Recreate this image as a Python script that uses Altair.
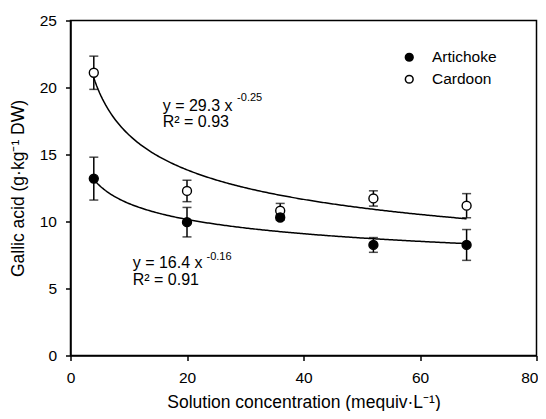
import altair as alt
import pandas as pd

# ---- data ----
conc = [4, 20, 36, 52, 68]
series = ["Artichoke", "Cardoon"]
artichoke_mean = [13.2, 9.95, 10.3, 8.25, 8.25]
artichoke_err = [1.6, 1.1, 0.2, 0.55, 1.15]
cardoon_mean = [21.1, 12.28, 10.8, 11.72, 11.18]
cardoon_err = [1.24, 0.8, 0.55, 0.57, 0.9]

# fitted power curves y = a * x^b (as printed on the chart)
fit_a = [16.4, 29.3]
fit_b = [-0.16, -0.25]
fit_range = [4, 68]

# annotations
eq_main = ["y = 29.3 x", "R² = 0.93", "y = 16.4 x", "R² = 0.91"]
eq_main_x = [15.83, 15.83, 10.68, 10.68]
eq_main_y = [18.26, 17.03, 6.50, 5.25]
eq_sup = ["-0.25", "-0.16"]
eq_sup_x = [28.6, 23.35]
eq_sup_y = [19.0, 7.1]

x_ticks = [0, 20, 40, 60, 80]
y_ticks = [0, 5, 10, 15, 20, 25]

FONT = "Liberation Sans"

rows = []
for name, means, errs in zip(series[::-1], [cardoon_mean, artichoke_mean], [cardoon_err, artichoke_err]):
    for x, m, e in zip(conc, means, errs):
        rows.append({"series": name, "x": x, "y": m, "lo": m - e, "hi": m + e})
df = pd.DataFrame(rows)

ann_df = pd.DataFrame({"t": eq_main, "x": eq_main_x, "y": eq_main_y})
sup_df = pd.DataFrame({"t": eq_sup, "x": eq_sup_x, "y": eq_sup_y})

xs = alt.Scale(domain=[0, 80], nice=False)
ys = alt.Scale(domain=[0, 25], nice=False)

X = alt.X("x:Q", scale=xs,
          axis=alt.Axis(values=x_ticks, title="Solution concentration (mequiv·L⁻¹)",
                        labelPadding=10, titlePadding=7, labelFlush=False,
                        labelAlign={"condition": {"test": "datum.value == 80", "value": "right"},
                                    "value": "center"},
                        labelOffset={"condition": {"test": "datum.value == 80", "value": 1.5},
                                     "value": 0}))
Y = alt.Y("y:Q", scale=ys,
          axis=alt.Axis(values=y_ticks, title="Gallic acid (g·kg⁻¹ DW)",
                        labelPadding=9, titlePadding=12, labelFlush=False))

curves = []
for a, b in zip(fit_a, fit_b):
    c = (alt.Chart(alt.sequence(fit_range[0], fit_range[1] + 0.25, 0.25, as_="x"))
         .transform_calculate(y=f"{a} * pow(datum.x, {b})")
         .mark_line(color="black", strokeWidth=1.5)
         .encode(x=X, y=Y))
    curves.append(c)

base = alt.Chart(df)
rules = base.mark_rule(color="black", strokeWidth=1.5).encode(
    x=X, y=alt.Y("lo:Q", scale=ys), y2="hi:Q")
caps = (base.transform_fold(["lo", "hi"], as_=["k", "v"])
        .mark_tick(orient="horizontal", color="black", size=9, thickness=1.5)
        .encode(x=X, y=alt.Y("v:Q", scale=ys)))
points = base.mark_point(shape="circle", filled=True, stroke="black", strokeWidth=1.4,
                         size=80, opacity=1).encode(
    x=X, y=Y,
    fill=alt.Fill("series:N", scale=alt.Scale(domain=series, range=["black", "white"]),
                  legend=alt.Legend(title=None, orient="none", legendX=331, legendY=29,
                                    symbolType="circle", symbolSize=60,
                                    symbolStrokeColor="black", symbolStrokeWidth=1.5,
                                    labelFont=FONT, labelFontSize=15.5, labelColor="black",
                                    labelOffset=15, rowPadding=5, padding=0)))

ann = alt.Chart(ann_df).mark_text(align="left", baseline="alphabetic", font=FONT,
                                  fontSize=16, color="black").encode(
    x=alt.X("x:Q", scale=xs), y=alt.Y("y:Q", scale=ys), text="t:N")
sup = alt.Chart(sup_df).mark_text(align="left", baseline="alphabetic", font=FONT,
                                  fontSize=11, color="black").encode(
    x=alt.X("x:Q", scale=xs), y=alt.Y("y:Q", scale=ys), text="t:N")

chart = (alt.layer(*curves, rules, caps, points, ann, sup)
         .properties(width=466, height=335,
                     autosize=alt.AutoSizeParams(type="none"),
                     padding={"left": 62.5, "top": 12.5, "right": 1.5, "bottom": 55.5})
         .configure_view(stroke="black", strokeWidth=1.5)
         .configure_axis(domainColor="black", domainWidth=1.5, tickColor="black",
                         tickWidth=1.5, tickSize=5, grid=False,
                         labelFont=FONT, labelFontSize=15.5, labelColor="black",
                         titleFont=FONT, titleFontSize=17.5, titleFontWeight="normal",
                         titleColor="black"))

chart.save("out.html", embed_options={"renderer": "svg", "actions": False})
